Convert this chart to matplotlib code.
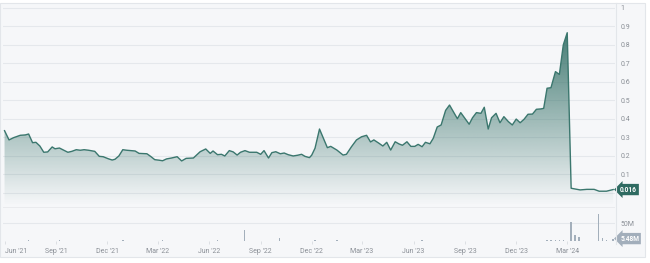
import matplotlib
matplotlib.use('Agg')
import matplotlib.pyplot as plt
import matplotlib.dates as mdates
import matplotlib.patches as mpatches
import matplotlib.transforms as mtransforms
import numpy as np
import pandas as pd

plt.rcParams.update({
    'font.family': ['Roboto', 'DejaVu Sans'],
    'font.size': 5,
})

# weekly closing price
price_dates = [
    '2021-06-01', '2021-06-09', '2021-06-17', '2021-06-29', '2021-07-08', '2021-07-14',
    '2021-07-21', '2021-07-27', '2021-08-03', '2021-08-10', '2021-08-17', '2021-08-25',
    '2021-08-30', '2021-09-07', '2021-09-14', '2021-09-22', '2021-09-29', '2021-10-07',
    '2021-10-14', '2021-10-21', '2021-10-29', '2021-11-09', '2021-11-17', '2021-11-24',
    '2021-12-03', '2021-12-10', '2021-12-15', '2021-12-22', '2021-12-29', '2022-01-05',
    '2022-01-12', '2022-01-20', '2022-01-27', '2022-02-10', '2022-02-17', '2022-02-24',
    '2022-03-04', '2022-03-10', '2022-03-17', '2022-03-26', '2022-04-05', '2022-04-13',
    '2022-04-21', '2022-05-04', '2022-05-16', '2022-05-26', '2022-06-03', '2022-06-08',
    '2022-06-16', '2022-06-23', '2022-06-29', '2022-07-07', '2022-07-14', '2022-07-21',
    '2022-07-27', '2022-08-04', '2022-08-12', '2022-08-25', '2022-09-01', '2022-09-07',
    '2022-09-15', '2022-09-21', '2022-09-28', '2022-10-06', '2022-10-13', '2022-10-20',
    '2022-10-29', '2022-11-06', '2022-11-13', '2022-11-19', '2022-11-27', '2022-12-01',
    '2022-12-07', '2022-12-15', '2022-12-22', '2022-12-29', '2023-01-04', '2023-01-15',
    '2023-01-26', '2023-02-01', '2023-02-10', '2023-02-19', '2023-02-28', '2023-03-09',
    '2023-03-16', '2023-03-22', '2023-03-31', '2023-04-07', '2023-04-14', '2023-04-21',
    '2023-04-29', '2023-05-06', '2023-05-12', '2023-05-20', '2023-05-27', '2023-06-03',
    '2023-06-09', '2023-06-16', '2023-06-22', '2023-06-30', '2023-07-06', '2023-07-13',
    '2023-07-20', '2023-07-28', '2023-08-04', '2023-08-11', '2023-08-18', '2023-08-24',
    '2023-08-30', '2023-09-08', '2023-09-14', '2023-09-21', '2023-09-29', '2023-10-05',
    '2023-10-12', '2023-10-18', '2023-10-26', '2023-11-02', '2023-11-09', '2023-11-17',
    '2023-11-24', '2023-12-01', '2023-12-08', '2023-12-15', '2023-12-22', '2023-12-30',
    '2024-01-06', '2024-01-14', '2024-01-19', '2024-01-25', '2024-02-01', '2024-02-09',
    '2024-02-16', '2024-02-23', '2024-03-01', '2024-03-08', '2024-03-15', '2024-03-24',
    '2024-04-05', '2024-04-18', '2024-04-27', '2024-05-10', '2024-05-22',
]
price_values = [
    0.335, 0.285, 0.297, 0.310, 0.312, 0.317,
    0.270, 0.272, 0.252, 0.218, 0.220, 0.247,
    0.237, 0.241, 0.230, 0.218, 0.223, 0.232,
    0.229, 0.232, 0.229, 0.223, 0.196, 0.194,
    0.183, 0.176, 0.180, 0.198, 0.232, 0.229,
    0.227, 0.225, 0.212, 0.210, 0.195, 0.178,
    0.175, 0.172, 0.182, 0.187, 0.194, 0.171,
    0.185, 0.187, 0.221, 0.236, 0.212, 0.225,
    0.205, 0.207, 0.198, 0.227, 0.220, 0.203,
    0.218, 0.227, 0.218, 0.218, 0.207, 0.227,
    0.187, 0.216, 0.221, 0.210, 0.214, 0.205,
    0.198, 0.202, 0.207, 0.196, 0.189, 0.202,
    0.240, 0.344, 0.294, 0.243, 0.250, 0.230,
    0.203, 0.207, 0.248, 0.285, 0.302, 0.310,
    0.274, 0.285, 0.267, 0.252, 0.272, 0.230,
    0.275, 0.263, 0.256, 0.275, 0.250, 0.250,
    0.261, 0.248, 0.272, 0.264, 0.294, 0.355,
    0.366, 0.445, 0.474, 0.437, 0.400, 0.433,
    0.408, 0.370, 0.405, 0.433, 0.429, 0.462,
    0.344, 0.405, 0.429, 0.378, 0.411, 0.384,
    0.366, 0.398, 0.378, 0.397, 0.424, 0.425,
    0.451, 0.453, 0.456, 0.565, 0.568, 0.655,
    0.640, 0.800, 0.866, 0.023, 0.019, 0.014,
    0.017, 0.017, 0.007, 0.007, 0.016,
]

# weekly volume (shares)
vol_dates = [
    '2021-07-14', '2021-09-07', '2021-12-29', '2022-03-10', '2022-06-16',
    '2022-08-03', '2022-10-05', '2022-12-07', '2023-01-15', '2023-06-16',
    '2024-01-25', '2024-02-01', '2024-02-09', '2024-02-16', '2024-02-23',
    '2024-03-08', '2024-03-15', '2024-03-22', '2024-04-26', '2024-05-03',
    '2024-05-10', '2024-05-22',
]
vol_values = [
    0.6e6, 0.5e6, 0.6e6, 0.7e6, 0.8e6,
    30e6, 7.5e6, 1.0e6, 1.2e6, 0.6e6,
    1.2e6, 1.0e6, 1.8e6, 1.5e6, 2.2e6,
    54e6, 15.5e6, 8.8e6, 77e6, 6.8e6,
    1.2e6, 5.48e6,
]

last_price_label = '0.016'
last_vol_label = '5.48M'

px = pd.to_datetime(price_dates)
py = np.array(price_values)
vx = pd.to_datetime(vol_dates)
vy = np.array(vol_values)

teal = '#3b776e'
bg = '#f6f7f9'
grid_c = '#e5e8ec'
lab_c = '#8a8f96'

W, H = 650, 263
fig = plt.figure(figsize=(W / 100, H / 100), dpi=100)
fig.patch.set_facecolor('white')
fig.patches.append(mpatches.Rectangle((0, 6 / H), 645 / W, 254 / H, transform=fig.transFigure,
                                      facecolor=bg, edgecolor='#e3e6ea', lw=0.8, zorder=-10))

ax = fig.add_axes([3 / W, 1 - 208 / H, 612 / W, 205 / H])
axv = fig.add_axes([3 / W, 1 - 240.5 / H, 612 / W, 32.5 / H], sharex=ax)

xmin = pd.Timestamp('2021-05-29 06:00')
xmax = pd.Timestamp('2024-05-25 06:00')
ylo, yhi = -0.084, 1.027

for a in (ax, axv):
    a.set_facecolor('none')
    for s in a.spines.values():
        s.set_visible(False)

# price panel
ax.set_xlim(xmin, xmax)
ax.set_ylim(ylo, yhi)
ax.yaxis.tick_right()
ax.set_yticks(np.round(np.arange(0, 1.01, 0.1), 1))
ax.set_yticklabels(['0', '0.1', '0.2', '0.3', '0.4', '0.5', '0.6', '0.7', '0.8', '0.9', '1'])
ax.get_yticklabels()[0].set_visible(False)
ax.tick_params(axis='y', length=0, pad=4, labelsize=5, labelcolor=lab_c)
ax.tick_params(axis='x', length=0, labelbottom=False)
ax.grid(axis='y', color=grid_c, lw=0.8)
ax.set_axisbelow(True)

ax.plot(px, py, color=teal, lw=1.0, zorder=3)

# gradient fill under the line
xn = mdates.date2num(px)
verts = np.vstack([[xn[0], ylo], np.column_stack([xn, py]), [xn[-1], ylo]])
poly = mpatches.Polygon(verts, closed=True, facecolor='none', edgecolor='none')
ax.add_patch(poly)
grad = np.zeros((256, 2, 4))
grad[:, :, :3] = matplotlib.colors.to_rgb('#2f6d64')
alpha = np.clip((np.linspace(1.0, ylo, 256)[:, None] + 0.07) / 1.0, 0, 1)
grad[:, :, 3] = alpha * 0.95
im = ax.imshow(grad, extent=[mdates.date2num(xmin), mdates.date2num(xmax), ylo, 1.0],
               aspect='auto', zorder=2, interpolation='bilinear')
im.set_clip_path(poly)
ax.set_xlim(xmin, xmax)
ax.set_ylim(ylo, yhi)

# separator between panels
ax.axhline(ylo, color='#b9bdc2', lw=1.0, zorder=4)

trans = mtransforms.blended_transform_factory(ax.transAxes, ax.transData)
ax.text(1.0085, py[-1], last_price_label, transform=trans, ha='left', va='center',
        fontsize=4.8, color='white', fontweight='bold',
        bbox=dict(boxstyle='larrow,pad=0.25', fc='#2f6b62', ec='none'))

# volume panel
axv.bar(vx, vy, width=2.6, color='#a3afbb', zorder=3)
axv.set_ylim(0, 93e6)
axv.yaxis.tick_right()
axv.set_yticks([50e6])
axv.set_yticklabels(['50M'])
axv.tick_params(axis='y', length=0, pad=4, labelsize=5, labelcolor=lab_c)
axv.grid(axis='y', color=grid_c, lw=0.8)
axv.axhline(0, color='#e1e4e8', lw=0.6, zorder=1)
axv.set_axisbelow(True)
transv = mtransforms.blended_transform_factory(axv.transAxes, axv.transData)
axv.text(1.0085, vy[-1], last_vol_label, transform=transv, ha='left', va='center',
         fontsize=4.8, color='white', fontweight='bold',
         bbox=dict(boxstyle='larrow,pad=0.25', fc='#a2aebb', ec='none'))

axv.xaxis.set_major_locator(mdates.MonthLocator(bymonth=[3, 6, 9, 12]))
axv.xaxis.set_major_formatter(mdates.DateFormatter("%b '%y"))
axv.tick_params(axis='x', length=2.5, width=0.5, color='#d3d7dc', pad=3,
                labelsize=5, labelcolor=lab_c)
axv.set_xlim(xmin, xmax)
fig.canvas.draw()
for t in axv.get_xticklabels():
    if t.get_text() == "Jun '21":
        t.set_ha('left')

# right border of plot area
fig.add_artist(plt.Line2D([616 / W, 616 / W], [1 - 244 / H, 1 - 3 / H], transform=fig.transFigure,
                          color='#e3e6ea', lw=0.8))

fig.savefig('out.png', dpi=100)
